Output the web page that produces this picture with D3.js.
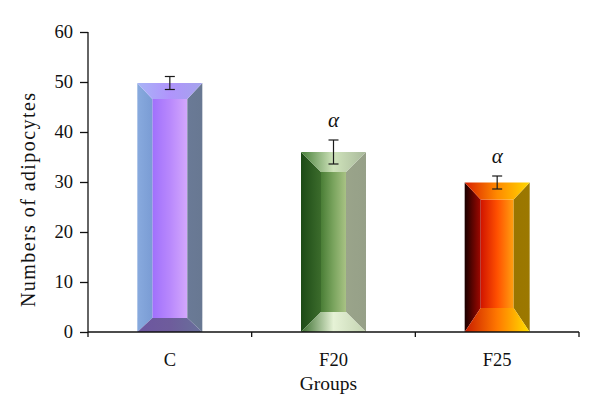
<!DOCTYPE html>
<html>
<head>
<meta charset="utf-8">
<style>
    body { margin: 0; background: #fff; }
    text { font-family: 'Liberation Serif', 'DejaVu Serif', serif; fill: #111; }
</style>
</head>
<body>
<svg width="600" height="417"></svg>
<script src="https://cdn.jsdelivr.net/npm/d3@7"></script>
<script>
    // data
    var groups = ["C", "F20", "F25"];
    var means = [49.8, 36.0, 29.9];
    var errors = [1.3, 2.4, 1.3];
    var marks = ["", "\u03b1", "\u03b1"];
    var yTicks = [0, 10, 20, 30, 40, 50, 60];

    var svg = d3.select("svg"),
        margin = { top: 32, right: 21, bottom: 85, left: 88 },
        width = +svg.attr("width") - margin.left - margin.right,
        height = +svg.attr("height") - margin.top - margin.bottom,
        g = svg.append("g").attr("transform", "translate(" + margin.left + "," + margin.top + ")");

    var x = d3.scaleBand().domain(groups).range([0, width]).paddingInner(0).paddingOuter(0);
    var y = d3.scaleLinear().domain([0, 60]).range([height, 0]);

    // bevel look per bar: side width, top depth, bottom depth, face colours
    var looks = [
        { s: 15, t: 16, b: 14,
          front: ["#a070fc", "#b888fc", "#d4a8fc"], left: ["#88aade", "#7a9cd4"], right: ["#6a7a96", "#687892"],
          top: ["#a8b4f6", "#b094fc", "#a4a4ec"], bottom: ["#6c56a0", "#6e5c9c", "#68709a"] },
        { s: 20, t: 20, b: 20,
          front: ["#4a7e36", "#7aa45e", "#a8c284"], left: ["#1c4a16", "#3c6c2c"], right: ["#9aa48a", "#96a088"],
          top: ["#48803a", "#cfe3bb", "#a9b99b"], bottom: ["#3a6e2e", "#e6f2d6", "#c4d4b2"] },
        { s: 16, t: 17, b: 24,
          front: ["#d01400", "#ff5000", "#ffa010"], left: ["#1a0000", "#a00800"], right: ["#9a7600", "#9c7800"],
          top: ["#d82000", "#ff8a00", "#ffd800"], bottom: ["#c81c00", "#ff7800", "#ffe000"] }
    ];

    var defs = svg.append("defs");
    function grad(id, colors) {
        var lg = defs.append("linearGradient").attr("id", id)
            .attr("x1", "0%").attr("x2", "100%").attr("y1", "0%").attr("y2", "0%");
        colors.forEach(function (c, i) {
            lg.append("stop").attr("offset", (i / (colors.length - 1) * 100) + "%").attr("stop-color", c);
        });
        return "url(#" + id + ")";
    }

    var barW = 65;
    groups.forEach(function (grp, i) {
        var L = looks[i];
        var x0 = x(grp) + x.bandwidth() / 2 - barW / 2,
            x1 = x0 + barW,
            yT = y(means[i]),
            yB = y(0);
        var bar = g.append("g").attr("class", "bar");
        var faces = [
            ["front", [[x0 + L.s, yT + L.t], [x1 - L.s, yT + L.t], [x1 - L.s, yB - L.b], [x0 + L.s, yB - L.b]]],
            ["left", [[x0, yT], [x0 + L.s, yT + L.t], [x0 + L.s, yB - L.b], [x0, yB]]],
            ["right", [[x1, yT], [x1 - L.s, yT + L.t], [x1 - L.s, yB - L.b], [x1, yB]]],
            ["top", [[x0, yT], [x1, yT], [x1 - L.s, yT + L.t], [x0 + L.s, yT + L.t]]],
            ["bottom", [[x0, yB], [x1, yB], [x1 - L.s, yB - L.b], [x0 + L.s, yB - L.b]]]
        ];
        faces.forEach(function (f) {
            bar.append("polygon")
                .attr("points", f[1].map(function (p) { return p.join(","); }).join(" "))
                .attr("fill", grad("g" + i + f[0], L[f[0]]));
        });

        // error bar
        var cx = x(grp) + x.bandwidth() / 2;
        var eb = g.append("g").attr("stroke", "#1a1a1a").attr("stroke-width", 1.2);
        eb.append("line").attr("x1", cx).attr("x2", cx).attr("y1", y(means[i] + errors[i])).attr("y2", y(means[i] - errors[i]));
        eb.append("line").attr("x1", cx - 5).attr("x2", cx + 5).attr("y1", y(means[i] + errors[i])).attr("y2", y(means[i] + errors[i]));
        eb.append("line").attr("x1", cx - 5).attr("x2", cx + 5).attr("y1", y(means[i] - errors[i])).attr("y2", y(means[i] - errors[i]));

        if (marks[i]) {
            g.append("text")
                .attr("x", cx).attr("y", y(means[i] + errors[i]) - 13)
                .attr("text-anchor", "middle")
                .style("font-style", "italic").style("font-size", "21px")
                .text(marks[i]);
        }
    });

    // axes
    var yAxis = g.append("g")
        .call(d3.axisLeft(y).tickValues(yTicks).tickSize(8).tickPadding(7).tickFormat(d3.format("d")));
    yAxis.selectAll("text").style("font-size", "18.5px").attr("font-family", null);
    yAxis.selectAll("line, path").attr("stroke", "#111").attr("stroke-width", 1.3);
    yAxis.select(".domain").attr("d", "M0," + height + "V0");
    yAxis.selectAll(".tick line").attr("x2", -8);

    var xAxis = g.append("g")
        .attr("transform", "translate(0," + height + ")")
        .call(d3.axisBottom(x).tickSize(0).tickPadding(21));
    xAxis.selectAll("text").style("font-size", "18.5px").attr("font-family", null);
    xAxis.select(".domain").attr("d", "M0,0H" + width).attr("stroke", "#111").attr("stroke-width", 1.3);
    // tick marks on the band edges
    xAxis.selectAll(".edge")
        .data(d3.range(groups.length + 1))
        .enter().append("line")
        .attr("x1", function (d) { return d * x.step(); })
        .attr("x2", function (d) { return d * x.step(); })
        .attr("y1", 0).attr("y2", 5)
        .attr("stroke", "#111").attr("stroke-width", 1.3);

    g.append("text")
        .attr("x", width / 2 - 5).attr("y", height + 58)
        .attr("text-anchor", "middle").style("font-size", "19.5px")
        .text("Groups");

    g.append("text")
        .attr("transform", "translate(" + (-53) + "," + (height / 2 + 18) + ") rotate(-90)")
        .attr("text-anchor", "middle").style("font-size", "20px")
        .attr("textLength", 214)
        .text("Numbers of adipocytes");
</script>
</body>
</html>
